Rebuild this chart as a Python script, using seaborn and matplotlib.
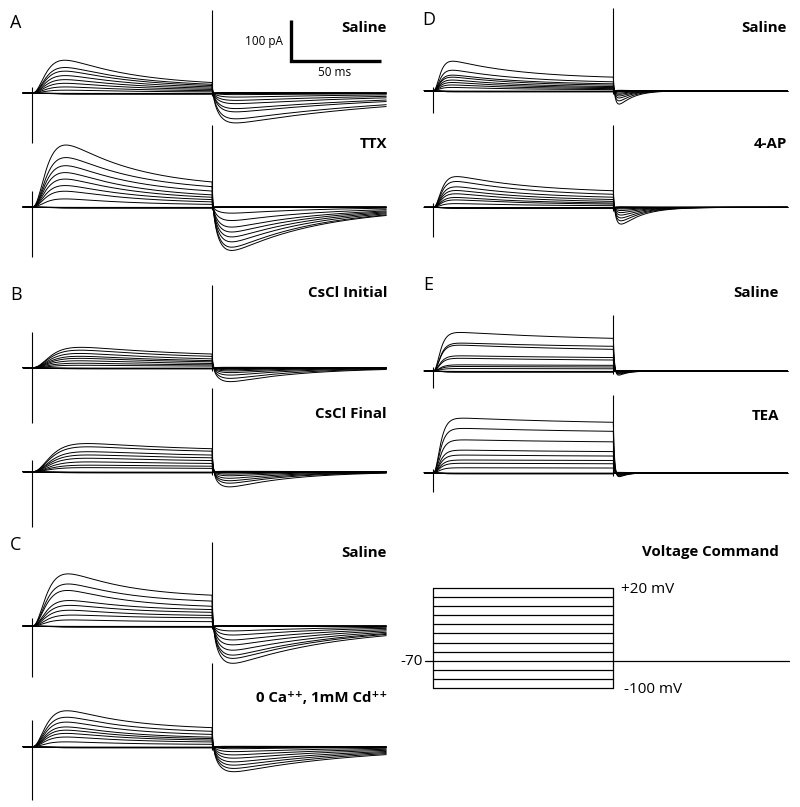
import numpy as np
import pandas as pd
import matplotlib
matplotlib.use('Agg')
import matplotlib.pyplot as plt
import seaborn as sns

sns.set_theme(style='white')
plt.rcParams['font.family'] = ['Open Sans', 'DejaVu Sans']

# --- data (pA), outward traces from +10 mV down to -60 mV ---
a_sal_peak = [81, 63, 54, 43, 33, 24, 15, 7]
a_sal_end = [16, 14, 12, 10, 8, 6, 4, 2]
a_sal_tail = [-73, -63, -46, -38, -26, -18, -10, -4]

a_ttx_peak = [153, 122, 102, 85, 69, 53, 39, 20]
a_ttx_end = [45, 37, 28, 20, 16, 12, 8, 4]
a_ttx_tail = [-106, -98, -85, -73, -61, -49, -33, -15]

b_ini_peak = [50, 43, 35, 28, 23, 17, 11, 6]
b_ini_end = [25, 20, 15, 12, 10, 7, 5, 3]
b_ini_tail = [-34, -26, -18, -12, -8, -5, -3, -1]

b_fin_peak = [69, 61, 49, 41, 33, 24, 16, 10]
b_fin_end = [49, 44, 36, 30, 24, 18, 12, 7]
b_fin_tail = [-37, -28, -22, -16, -10, -6, -3, -1]

c_sal_peak = [129, 104, 88, 63, 51, 39, 27, 15]
c_sal_end = [68, 55, 43, 37, 31, 24, 19, 10]
c_sal_tail = [-91, -79, -71, -59, -46, -34, -22, -12]

c_cd_peak = [89, 73, 61, 49, 41, 33, 24, 12]
c_cd_end = [41, 33, 26, 20, 17, 14, 10, 5]
c_cd_tail = [-61, -53, -45, -37, -28, -20, -12, -5]

d_sal_peak = [72, 50, 38, 33, 26, 20, 14, 8]
d_sal_end = [28, 18, 14, 11, 8, 6, 4, 2]
d_sal_tail = [-33, -25, -18, -13, -9, -6, -3, -1]

d_4ap_peak = [75, 63, 50, 41, 33, 24, 18, 9]
d_4ap_end = [34, 26, 20, 15, 11, 8, 6, 3]
d_4ap_tail = [-41, -33, -26, -19, -13, -8, -4, -2]

e_sal_peak = [94, 68, 63, 37, 31, 15, 11, 6]
e_sal_end = [70, 55, 46, 30, 24, 13, 9, 5]
e_sal_tail = [-12, -9, -7, -5, -3, -2, -1, -1]

e_tea_peak = [133, 108, 80, 55, 43, 31, 23, 12]
e_tea_end = [116, 96, 72, 49, 39, 29, 21, 11]
e_tea_tail = [-12, -10, -8, -6, -4, -3, -2, -1]

# -70 .. -100 mV steps: tiny leak currents
hyper_step = [0, -1, -2, -3]
hyper_tail = [0, 0.3, 0.5, 1]

# capacitive artifacts: onset up, onset down, offset up (pA)
spikes = {
    'a_sal': (15, -122, 202), 'a_ttx': (39, -122, 200),
    'b_ini': (87, -135, 202), 'b_fin': (29, -135, 204),
    'c_sal': (20, -124, 205), 'c_cd': (65, -130, 204),
    'd_sal': (10, -54, 202), 'd_4ap': (10, -73, 200),
    'e_sal': (10, -41, 137), 'e_tea': (10, -47, 190),
}

# kinetics (ms): activation, inactivation, tail rise, tail decay
kinetics = {
    'a_sal': (5.5, 40, 4, 100), 'a_ttx': (5.5, 40, 4, 50),
    'b_ini': (7, 60, 4, 40), 'b_fin': (7, 60, 4, 35),
    'c_sal': (5.5, 35, 4, 60), 'c_cd': (5.5, 35, 4, 70),
    'd_sal': (2.5, 40, 1.5, 8), 'd_4ap': (3, 45, 2, 12),
    'e_sal': (2.5, 90, 1, 5), 'e_tea': (2.5, 90, 1, 5),
}

step_levels = [10, 0, -10, -20, -30, -40, -50, -60, -70, -80, -90, -100]
hold_mv = -70
t_on, t_off = 0, 100
t_start, t_end = -5, 197

# figure geometry (pixels)
W, H = 800, 807
PX_MS = 1.8
PX_PA = 0.41
PX_MV = 0.909


def build_traces(peaks, ends, tails, kin):
    tr, ti, ta, td = kin
    t = np.arange(t_start, t_end, 0.2)
    rows = []
    amps = list(zip(peaks, ends, tails)) + [(h, h, ht) for h, ht in zip(hyper_step, hyper_tail)]
    for k, (p, e, tl) in enumerate(amps):
        ts = np.clip(t - t_on, 0, None)
        act = (1 - np.exp(-ts / tr)) ** 3
        p0 = p
        for _ in range(4):
            cur = act * (e + (p0 - e) * np.exp(-ts / ti))
            mx = cur.max() if p > 0 else p
            p0 = p0 + (p - mx)
        step_i = act * (e + (p0 - e) * np.exp(-ts / ti))
        if p <= 0:
            step_i = act * p
        tt = np.clip(t - t_off, 0, None)
        shape = np.exp(-tt / td) - np.exp(-tt / ta)
        shape = shape / shape.max()
        end_val = step_i[np.searchsorted(t, t_off) - 1]
        tail_i = end_val * np.exp(-tt / 0.7) + tl * shape
        i = np.where(t < t_on, 0, np.where(t < t_off, step_i, tail_i))
        rows.append(pd.DataFrame({'t': t, 'I': i, 'trace': k}))
    return pd.concat(rows, ignore_index=True)


def make_axes(fig, x0, base, ylo=-150, yhi=250, px=PX_PA):
    # base = pixel row (from top) where y == 0
    xlo, xhi = -10, 200
    left = (x0 + xlo * PX_MS) / W
    width = (xhi - xlo) * PX_MS / W
    bottom = (H - (base - ylo * px)) / H
    height = (yhi - ylo) * px / H
    ax = fig.add_axes([left, bottom, width, height])
    ax.set_xlim(xlo, xhi)
    ax.set_ylim(ylo, yhi)
    ax.set_axis_off()
    ax.patch.set_alpha(0)
    return ax


def draw_panel(fig, key, x0, base, peaks, ends, tails):
    ax = make_axes(fig, x0, base)
    df = build_traces(peaks, ends, tails, kinetics[key])
    sns.lineplot(data=df, x='t', y='I', units='trace', estimator=None, sort=False,
                 color='black', linewidth=0.7, legend=False, ax=ax)
    up, down, off_up = spikes[key]
    ax.vlines(t_on, down, up, color='black', linewidth=0.8)
    ax.vlines(t_off, -8, off_up, color='black', linewidth=0.8)
    return ax


fig = plt.figure(figsize=(W / 100, H / 100), dpi=100)
fig.patch.set_facecolor('white')

XL, XR = 32, 433.3
ax_a = draw_panel(fig, 'a_sal', XL, 93, a_sal_peak, a_sal_end, a_sal_tail)
draw_panel(fig, 'a_ttx', XL, 207, a_ttx_peak, a_ttx_end, a_ttx_tail)
draw_panel(fig, 'b_ini', XL, 367.7, b_ini_peak, b_ini_end, b_ini_tail)
draw_panel(fig, 'b_fin', XL, 471.7, b_fin_peak, b_fin_end, b_fin_tail)
draw_panel(fig, 'c_sal', XL, 626, c_sal_peak, c_sal_end, c_sal_tail)
draw_panel(fig, 'c_cd', XL, 746.7, c_cd_peak, c_cd_end, c_cd_tail)
draw_panel(fig, 'd_sal', XR, 90.7, d_sal_peak, d_sal_end, d_sal_tail)
draw_panel(fig, 'd_4ap', XR, 207.3, d_4ap_peak, d_4ap_end, d_4ap_tail)
draw_panel(fig, 'e_sal', XR, 371, e_sal_peak, e_sal_end, e_sal_tail)
draw_panel(fig, 'e_tea', XR, 472.7, e_tea_peak, e_tea_end, e_tea_tail)

# scale bar: 50 ms, 100 pA
sb_t, sb_i = 144, 78
ax_a.plot([sb_t, sb_t, sb_t + 50], [sb_i + 100, sb_i, sb_i], color='black',
          linewidth=2.4, solid_joinstyle='miter', solid_capstyle='butt')

# voltage command (-70 mV holding line sits at pixel row 660.7)
ax_v = make_axes(fig, XR, 660.7 + hold_mv * PX_MV, ylo=-120, yhi=30, px=PX_MV)
vmax, vmin = max(step_levels), min(step_levels)
vrows = [pd.DataFrame({'t': [t_on, t_off], 'V': [v, v], 'seg': k})
         for k, v in enumerate(step_levels)]
vrows.append(pd.DataFrame({'t': [t_on, t_on], 'V': [vmin, vmax], 'seg': 'left'}))
vrows.append(pd.DataFrame({'t': [t_off, t_off], 'V': [vmin, vmax], 'seg': 'right'}))
vrows.append(pd.DataFrame({'t': [t_start + 0.4, t_on], 'V': [hold_mv, hold_mv], 'seg': 'pre'}))
vrows.append(pd.DataFrame({'t': [t_off, t_end + 0.6], 'V': [hold_mv, hold_mv], 'seg': 'post'}))
vdf = pd.concat(vrows, ignore_index=True)
sns.lineplot(data=vdf, x='t', y='V', units='seg', estimator=None, sort=False,
             color='black', linewidth=0.9, legend=False, ax=ax_v)


def px_text(x, y, s, size, weight='normal', ha='left'):
    fig.text(x / W, 1 - y / H, s, fontsize=size, fontweight=weight, ha=ha, va='baseline',
             color='black')


for lbl, x, y in [('A', 10, 28), ('B', 10, 300), ('C', 10, 550), ('D', 422, 25), ('E', 423, 290)]:
    px_text(x, y, lbl, 13)

bold = [('Saline', 387, 32), ('TTX', 387, 148), ('CsCl Initial', 387, 296.7),
        ('CsCl Final', 387, 418.3), ('Saline', 387, 556.7), ('0 Ca⁺⁺, 1mM Cd⁺⁺', 387, 701.7),
        ('Saline', 787, 32.3), ('4-AP', 787, 148), ('Saline', 779, 296.7), ('TEA', 779, 420),
        ('Voltage Command', 779, 556)]
for s, x, y in bold:
    px_text(x, y, s, 10.8, weight='bold', ha='right')

px_text(283, 45, '100 pA', 8.5, ha='right')
px_text(335, 76, '50 ms', 8.5, ha='center')
px_text(621, 593.3, '+20 mV', 11)
px_text(624, 693.3, '-100 mV', 11)
px_text(423, 665, '-70', 11, ha='right')

fig.savefig('out.png', dpi=100, facecolor='white')
